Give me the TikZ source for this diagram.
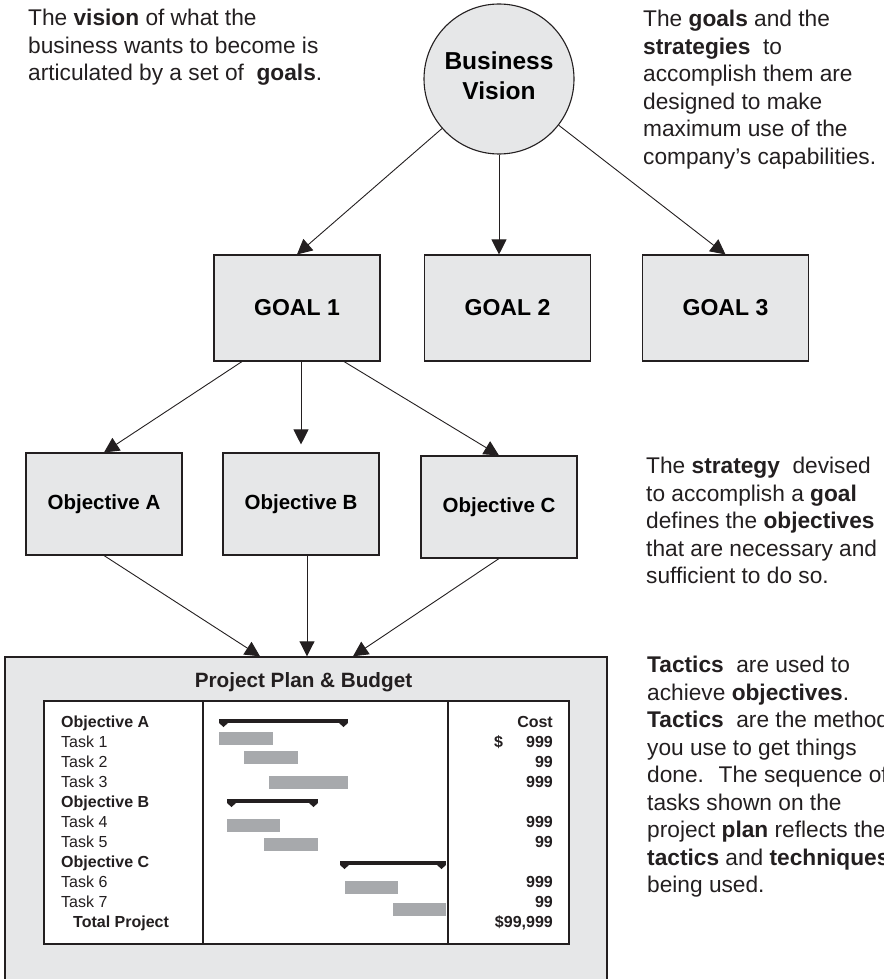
\documentclass[tikz,border=0pt]{standalone}
\usepackage{fontspec}
\setmainfont{Liberation Sans}
\usetikzlibrary{arrows.meta}

\definecolor{boxgray}{HTML}{E6E7E8}
\definecolor{bargray}{HTML}{A7A9AC}
\definecolor{inkgray}{HTML}{231F20}

\tikzset{
  box/.style={draw=inkgray, line width=1.1pt, fill=boxgray, inner sep=0pt},
  goalbox/.style={box, minimum width=166pt, minimum height=106pt,
    font=\fontsize{23}{27}\selectfont\bfseries},
  objbox/.style={box, minimum width=156pt, minimum height=102pt,
    font=\fontsize{20.5}{24}\selectfont\bfseries},
  link/.style={draw=inkgray, line width=0.9pt, -{Triangle[length=15pt,width=15pt]}},
  note/.style={anchor=north west, align=left, inner sep=0pt, text=inkgray,
    font=\fontsize{22.7}{27.5}\selectfont},
  rowtext/.style={anchor=base west, inner sep=0pt, text=inkgray,
    font=\fontsize{16}{20}\selectfont},
  costtext/.style={anchor=base east, inner sep=0pt, text=inkgray,
    font=\fontsize{16}{20}\selectfont\bfseries},
}

\begin{document}
\begin{tikzpicture}[x=1pt, y=-1pt]
    \clip (0,0) rectangle (883,979);

    % Vision and goals
    \node[circle, box, minimum size=150pt, align=center,
      font=\fontsize{24.5}{30}\selectfont\bfseries] (vision) at (499,79) {Business\\Vision\\[-23pt]};
    \node[goalbox] (goal1) at (297,308) {GOAL 1};
    \node[goalbox] (goal2) at (507.5,308) {GOAL 2};
    \node[goalbox] (goal3) at (725.5,308) {GOAL 3};

    % Objectives
    \node[objbox] (objA) at (104,504) {Objective A};
    \node[objbox] (objB) at (301,504) {Objective B};
    \node[objbox] (objC) at (499,507) {Objective C};

    % Project plan
    \node[box, line width=1.4pt, minimum width=602pt, minimum height=343pt] (plan) at (306,828.5) {};
    \node[anchor=base, inner sep=0pt, text=inkgray,
      font=\fontsize{20.7}{24}\selectfont\bfseries] (plantitle) at (303.5,687) {Project Plan \& Budget};
    \draw[draw=inkgray, line width=1.1pt, fill=white] (44,701) rectangle (569,944);
    \draw[draw=inkgray, line width=1.1pt] (203,701) -- (203,944);
    \draw[draw=inkgray, line width=1.1pt] (448,701) -- (448,944);

    \foreach \txt [count=\k from 0] in {\textbf{Objective A}, Task 1, Task 2, Task 3,
        \textbf{Objective B}, Task 4, Task 5, \textbf{Objective C}, Task 6, Task 7}
        \node[rowtext] (row\k) at (61,727+20*\k) {\txt};
    \node[rowtext, font=\fontsize{16}{20}\selectfont\bfseries] (row10) at (73,927) {Total Project};

    \foreach \k/\val in {0/Cost, 1/999, 2/99, 3/999, 5/999, 6/99, 8/999, 9/99, 10/{\$99,999}}
        \node[costtext] (cost\k) at (553,727+20*\k) {\val};
    \node[costtext, anchor=base west] (dollar) at (494,747) {\$};

    % Gantt bars
    \foreach \xa/\xb/\ya in {219/273/732, 244/298/751, 269/348/776, 227/280/819,
        264/318/838, 345/398/881, 393/446/903}
        \fill[bargray] (\xa,\ya) rectangle (\xb,\ya+13);
    \foreach \xa/\xb/\ya in {219/348/719, 227/318/799, 340/446/861} {
        \fill[inkgray] (\xa,\ya) rectangle (\xb,\ya+4);
        \fill[inkgray] (\xa,\ya+4) -- (\xa+9,\ya+4) -- (\xa+4.5,\ya+8) -- cycle;
        \fill[inkgray] (\xb,\ya+4) -- (\xb-9,\ya+4) -- (\xb-4.5,\ya+8) -- cycle;
    }

    % Connectors
    \draw[link] (vision) -- (goal1.north);
    \draw[link] (vision.south) -- (vision.south |- goal2.north);
    \draw[link] (vision) -- (goal3.north);
    \draw[link] ([xshift=-55pt]goal1.south) -- (objA.north);
    \draw[link] (objB.north |- goal1.south) -- ([yshift=8pt]objB.north);
    \draw[link] ([xshift=47pt]goal1.south) -- (objC.north);
    \draw[link] (objA.south) -- ([xshift=-46pt]plan.north);
    \draw[link] ([xshift=6pt]objB.south) -- ([xshift=6pt]objB.south |- plan.north);
    \draw[link] (objC.south) -- ([xshift=47pt]plan.north);

    % Notes
    \node[note] (visionnote) at (28,9)
        {The \textbf{vision} of what the\\business wants to become is\\articulated by a set of~ \textbf{goals}.};
    \node[note] (goalnote) at (643,10)
        {The \textbf{goals} and the\\\textbf{strategies}~ to\\accomplish them are\\designed to make\\maximum use of the\\company’s capabilities.};
    \node[note] (strategynote) at (646,457)
        {The \textbf{strategy}~ devised\\to accomplish a \textbf{goal}\\defines the \textbf{objectives}\\that are necessary and\\sufficient to do so.};
    \node[note] (tacticsnote) at (647,656)
        {\textbf{Tactics}~ are used to\\achieve \textbf{objectives}.\\\textbf{Tactics}~ are the methods\\you use to get things\\done.~ The sequence of\\tasks shown on the\\project \textbf{plan} reflects the\\\textbf{tactics} and \textbf{techniques}\\being used.};
\end{tikzpicture}
\end{document}
